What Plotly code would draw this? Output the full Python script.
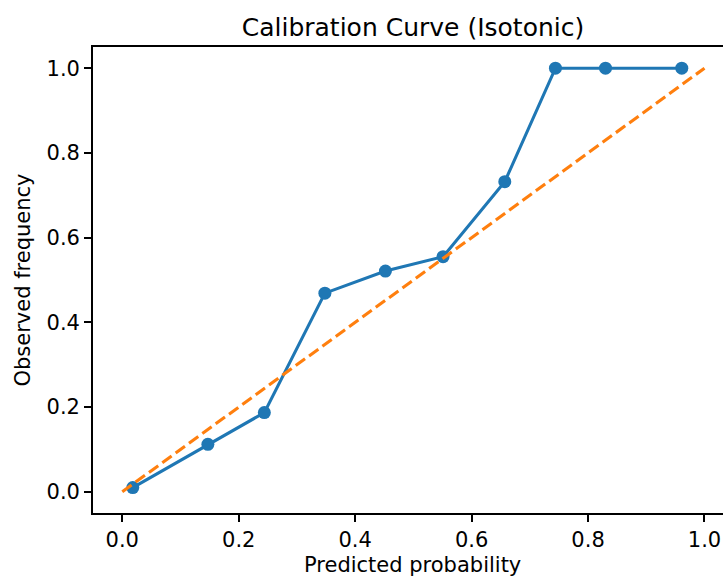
import plotly.graph_objects as go

# Data
pred_prob = [0.018, 0.147, 0.244, 0.348, 0.452, 0.551, 0.657, 0.744, 0.830, 0.961]
obs_freq = [0.010, 0.112, 0.187, 0.469, 0.521, 0.555, 0.732, 1.0, 1.0, 1.0]
diag_x = [0.0, 1.0]
diag_y = [0.0, 1.0]
tick_vals = [0.0, 0.2, 0.4, 0.6, 0.8, 1.0]
tick_text = ["0.0", "0.2", "0.4", "0.6", "0.8", "1.0"]

FONT = "DejaVu Sans"
PLOT_H = 581 - 47 - 68

fig = go.Figure()
fig.add_trace(go.Scatter(
    x=pred_prob, y=obs_freq, mode="lines+markers",
    line=dict(color="#1f77b4", width=3.1),
    marker=dict(color="#1f77b4", size=13),
    showlegend=False,
))
fig.add_trace(go.Scatter(
    x=diag_x, y=diag_y, mode="lines",
    line=dict(color="#ff7f0e", width=3.1, dash="11.5px,5px"),
    showlegend=False,
))

fig.update_layout(
    width=723, height=581,
    margin=dict(l=93, r=0, t=47, b=68),
    paper_bgcolor="white", plot_bgcolor="white",
    font=dict(family=FONT, size=21, color="black"),
    title=dict(text="Calibration Curve (Isotonic)", x=(413 / 723), xanchor="center",
               yref="container", y=1 - 36 / 581, yanchor="bottom",
               font=dict(family=FONT, size=25, color="black")),
)
fig.add_annotation(
    text="Predicted probability", xref="paper", yref="paper",
    x=(412 - 93) / 630, y=-(581 - 513 - 2) / PLOT_H,
    xanchor="center", yanchor="bottom", showarrow=False,
    font=dict(family=FONT, size=21, color="black"),
)
fig.update_xaxes(
    range=[-0.0503, 1.0318], showgrid=False, zeroline=False,
    showline=True, linecolor="black", linewidth=1.7, mirror=True,
    ticks="outside", ticklen=7, tickwidth=1.7, tickcolor="black",
    tickvals=tick_vals, ticktext=tick_text, tickfont=dict(size=21),
)
fig.update_yaxes(
    range=[-0.05, 1.05], showgrid=False, zeroline=False,
    showline=True, linecolor="black", linewidth=1.7, mirror=False,
    ticks="outside", ticklen=7, tickwidth=1.7, tickcolor="black",
    tickvals=tick_vals, ticktext=tick_text, tickfont=dict(size=21),
    title=dict(text="Observed frequency", standoff=10,
               font=dict(family=FONT, size=21, color="black")),
)

fig.write_html("out.html")
